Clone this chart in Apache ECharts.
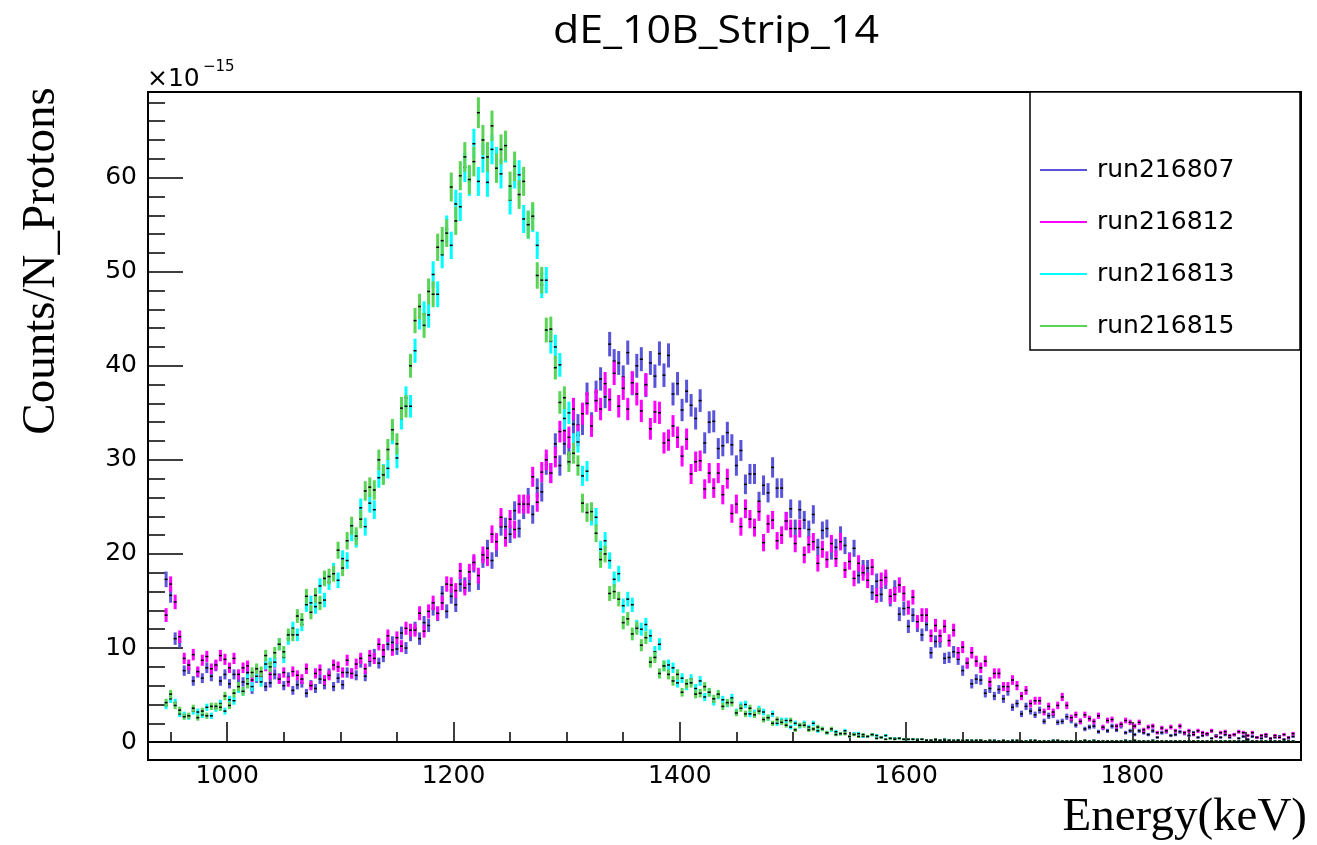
<!DOCTYPE html>
<html><head><meta charset="utf-8">
<script src="https://cdn.jsdelivr.net/npm/echarts@6/dist/echarts.min.js"></script>
<style>html,body{margin:0;padding:0;background:#fff}#c{width:1317px;height:845px}</style>
</head><body><div id="c"></div>
<script>
// Histogram bins: centre of first bin and bin width (keV)
const binStart = 946, binWidth = 4;
const seriesNames = ['run216807', 'run216812', 'run216813', 'run216815'];
const seriesColors = ['#5954d8', '#ff00ff', '#00ffff', '#59d454'];
// Counts/N_Protons (x1e-15), one value per bin
const run216807 = [
17.3,15.6,11.0,10.7,7.6,7.8,6.5,7.4,6.8,7.9,
7.0,8.1,6.5,7.2,6.2,7.2,6.8,6.4,7.4,5.6,
6.8,7.0,5.9,6.3,7.2,6.8,6.0,6.9,5.5,6.1,
6.3,5.2,6.1,5.7,6.7,6.1,7.3,5.9,6.8,6.1,
7.4,7.3,7.1,8.5,7.0,8.6,9.3,8.4,9.1,10.4,
10.6,9.9,11.6,10.0,11.4,12.1,11.0,12.7,12.4,14.2,
13.6,15.8,13.9,15.5,14.6,16.8,16.7,16.8,18.9,17.0,
19.4,20.6,19.3,20.6,22.9,22.9,22.1,24.6,22.7,24.7,
26.0,24.2,27.0,26.6,29.5,28.6,31.7,29.4,31.7,30.6,
33.8,33.7,33.8,37.0,33.9,37.2,38.6,36.7,42.3,40.5,
40.3,38.8,41.4,38.1,40.0,40.7,37.9,40.3,38.9,41.3,
39.0,41.1,37.0,38.1,35.3,37.3,35.8,34.4,36.3,31.8,
34.0,34.1,31.2,31.5,32.9,31.6,29.4,31.0,27.4,28.5,
28.5,25.6,27.3,26.5,29.2,27.0,27.0,23.5,24.8,22.7,
24.7,23.6,22.6,24.2,20.7,22.5,22.7,20.3,20.7,22.0,
20.9,19.3,20.6,17.7,18.5,18.5,15.9,17.1,15.7,17.1,
15.2,16.4,13.6,14.2,12.3,13.5,12.4,11.4,12.5,9.5,
10.7,10.7,8.9,9.0,9.6,8.8,7.6,8.4,6.2,6.7,
6.6,5.2,5.7,4.9,5.6,4.6,5.4,3.7,4.1,3.0,
3.8,3.3,2.9,3.4,2.2,2.8,2.9,2.1,2.2,2.7,
2.3,1.8,2.2,1.4,1.6,1.7,1.1,1.5,1.2,1.7,
1.3,1.7,1.0,1.2,0.8,1.2,1.0,0.8,1.2,0.5,
1.0,1.1,0.7,0.8,1.1,0.9,0.7,1.0,0.5,0.7,
0.8,0.4,0.7,0.5,0.8,0.5,0.8,0.4,0.6,0.3,
0.6,0.5,0.4,0.6,0.2,0.5,0.6,0.3,0.4,0.6];
const run216812 = [
13.5,16.8,14.9,11.2,8.9,8.2,9.3,7.5,8.7,9.1,
7.8,8.2,9.2,8.8,7.9,8.9,7.2,7.9,8.1,6.6,
7.6,7.0,8.1,7.2,8.4,6.7,7.4,6.4,7.5,7.1,
6.7,7.8,6.0,7.3,7.7,6.6,7.1,8.2,8.0,7.4,
8.7,7.3,8.3,8.9,7.8,9.2,8.9,10.4,9.8,11.3,
9.8,11.1,10.2,12.1,11.9,11.9,13.7,11.8,13.9,14.8,
13.7,14.8,16.8,16.7,16.1,18.2,16.4,18.1,19.1,17.7,
19.9,19.6,22.1,21.3,23.9,21.7,23.7,22.6,25.3,25.3,
25.3,28.2,25.5,28.7,30.0,28.6,30.3,33.0,33.1,32.4,
35.4,32.6,34.9,36.0,33.6,36.3,35.4,38.1,36.4,39.2,
35.7,37.6,35.4,38.2,37.0,35.2,38.0,33.3,35.1,35.0,
31.8,32.1,33.6,32.4,30.4,32.2,28.5,29.8,29.9,26.9,
28.6,27.0,28.6,26.3,28.0,24.3,25.3,22.9,24.8,23.7,
22.8,24.5,21.2,23.2,23.6,21.4,22.0,23.5,22.7,21.1,
22.7,19.9,21.0,21.3,19.0,20.5,19.4,21.1,19.5,21.3,
18.3,19.2,17.4,19.0,18.0,17.2,18.6,15.6,17.2,17.5,
15.5,15.7,16.7,15.8,14.3,15.4,12.8,13.5,13.5,11.3,
12.4,11.3,12.3,10.8,11.9,9.5,10.1,8.4,9.5,8.6,
7.9,8.6,6.4,7.3,7.3,5.9,5.9,6.6,6.0,4.9,
5.5,4.1,4.4,4.4,3.2,3.8,3.2,3.9,4.8,3.9,
2.6,2.9,2.2,2.9,2.5,2.2,2.8,1.6,2.3,2.4,
1.7,1.9,2.3,2.1,1.7,2.1,1.3,1.6,1.7,1.0,
1.5,1.2,1.6,1.2,1.7,1.0,1.2,0.8,1.2,1.0,
0.9,1.2,0.6,1.0,1.1,0.7,0.8,1.1,1.0,0.7,
1.0,0.5,0.7,0.8,0.4,0.7,0.5,0.8,0.5,0.9];
const run216813 = [
3.9,4.6,4.2,3.0,2.9,2.7,3.3,3.2,2.9,3.7,
2.8,3.6,4.1,3.3,4.5,4.4,5.7,5.4,6.7,5.9,
7.0,6.4,8.3,8.4,8.5,10.4,9.0,11.0,12.1,11.4,
12.5,14.6,14.8,14.4,16.6,15.1,17.0,18.2,17.2,19.5,
19.3,22.3,21.6,24.9,22.9,25.4,24.7,28.1,28.5,29.1,
32.8,30.2,34.4,36.6,35.7,41.6,45.2,45.5,45.4,49.7,
47.6,51.8,54.5,52.8,57.2,56.9,61.1,59.6,63.6,59.6,
62.1,59.5,63.0,61.7,60.4,63.2,57.6,60.4,60.3,55.6,
55.0,55.7,52.8,48.6,49.1,42.6,42.0,40.1,34.4,35.0,
31.7,31.9,28.3,28.8,24.0,23.9,20.5,21.4,19.3,17.3,
17.9,14.5,15.2,14.6,12.3,12.0,12.5,11.3,9.6,10.4,
8.1,8.2,7.9,6.3,6.8,6.0,6.7,5.7,6.5,4.8,
5.3,4.3,5.0,4.5,4.1,4.7,3.2,3.9,4.0,3.0,
3.1,3.5,3.2,2.6,3.0,2.0,2.3,2.3,1.6,2.0,
1.7,2.0,1.6,2.0,1.2,1.4,1.0,1.3,1.1,0.9,
1.2,0.6,0.9,0.9,0.6,0.6,0.8,0.7,0.5,0.7,
0.4,0.4,0.4,0.3,0.3,0.3,0.3,0.3,0.2,0.2,
0.2,0.2,0.3,0.2,0.2,0.2,0.1,0.2,0.2,0.1,
0.2,0.1,0.1,0.2,0.1,0.1,0.1,0.2,0.1,0.1,
0.1,0.2,0.1,0.1,0.1,0.1,0.2,0.1,0.1,0.1,
0.1,0.1,0.1,0.1,0.1,0.2,0.1,0.1,0.1,0.1,
0.1,0.1,0.2,0.1,0.1,0.1,0.1,0.1,0.2,0.1,
0.1,0.1,0.1,0.1,0.1,0.1,0.1,0.1,0.1,0.1,
0.1,0.1,0.1,0.1,0.1,0.1,0.1,0.1,0.1,0.1,
0.1,0.1,0.1,0.1,0.1,0.1,0.1,0.1,0.1,0.1];
const run216815 = [
4.2,5.1,3.9,3.4,2.7,2.8,3.6,2.6,3.3,2.8,
3.8,3.8,3.7,4.9,3.9,5.2,5.9,5.4,6.2,7.4,
7.8,7.5,9.2,8.0,9.5,10.4,9.6,11.4,11.4,13.4,
13.0,15.5,13.8,15.6,14.8,17.4,17.6,17.9,20.4,18.5,
21.4,23.0,21.9,23.7,26.7,27.1,26.8,30.0,28.4,31.1,
33.2,31.7,35.5,35.7,40.0,44.8,46.3,44.3,47.9,47.6,
52.6,53.3,54.1,59.0,55.4,60.2,62.2,59.8,61.7,66.9,
64.0,62.2,65.5,61.0,63.0,63.4,59.1,61.2,58.2,59.6,
55.0,55.9,49.6,49.1,43.8,43.9,39.8,36.1,36.6,29.8,
30.7,29.4,25.4,24.4,24.5,22.2,19.4,20.0,15.8,16.0,
15.2,12.7,13.1,11.5,12.1,10.3,11.1,8.5,9.0,7.3,
8.1,7.2,6.5,7.2,5.3,6.2,6.3,5.1,5.2,5.9,
5.3,4.6,5.1,3.8,4.2,4.2,3.1,3.6,3.0,3.6,
2.9,3.3,2.4,2.6,2.0,2.4,2.1,1.8,2.3,1.3,
1.8,1.8,1.3,1.4,1.6,1.4,1.0,1.4,0.8,0.9,
0.9,0.6,0.8,0.6,0.8,0.6,0.8,0.4,0.5,0.3,
0.4,0.3,0.4,0.3,0.3,0.3,0.2,0.3,0.2,0.2,
0.3,0.2,0.2,0.2,0.1,0.2,0.2,0.2,0.1,0.2,
0.2,0.1,0.2,0.1,0.1,0.2,0.1,0.1,0.2,0.1,
0.1,0.1,0.2,0.1,0.1,0.1,0.1,0.2,0.1,0.1,
0.1,0.1,0.1,0.2,0.1,0.1,0.1,0.1,0.1,0.1,
0.1,0.1,0.1,0.1,0.2,0.1,0.1,0.1,0.1,0.1,
0.1,0.1,0.1,0.1,0.1,0.1,0.1,0.1,0.1,0.1,
0.1,0.1,0.1,0.1,0.1,0.1,0.1,0.1,0.1,0.1,
0.1,0.1,0.1,0.1,0.1,0.1,0.1,0.1,0.1,0.1];
const seriesValues = [run216807, run216812, run216813, run216815];
// Poisson error: err^2 = value * errScale  (counts normalised by N_protons)
const errScale = 0.04;

const chart = echarts.init(document.getElementById('c'), null, {renderer: 'canvas'});

function renderErr(params, api) {
  const x = api.value(0), y = api.value(1), e = api.value(2);
  const top = api.coord([x, y + e]);
  const bot = api.coord([x, y - e]);
  const c = api.coord([x, y]);
  const col = api.visual('color');
  return {
    type: 'group',
    children: [
      {type: 'line', shape: {x1: top[0], y1: top[1], x2: bot[0], y2: bot[1]},
       style: {stroke: col, lineWidth: 3}},
      {type: 'rect', shape: {x: c[0] - 1.5, y: c[1] - 0.75, width: 3, height: 1.5},
       style: {fill: '#000'}}
    ]
  };
}

const series = seriesNames.map((name, k) => ({
  name: name,
  type: 'custom',
  renderItem: renderErr,
  clip: true,
  itemStyle: {color: seriesColors[k]},
  encode: {x: 0, y: 1},
  z: 2 + k,
  data: seriesValues[k].map((v, i) => [binStart + i * binWidth, v, Math.sqrt(v * errScale)])
}));

const labelFont = {fontFamily: 'DejaVu Sans', fontSize: 25, color: '#000'};

chart.setOption({
  animation: false,
  backgroundColor: '#fff',
  grid: {left: 148, right: 16, top: 92, bottom: 85, show: true, borderColor: '#000', borderWidth: 2, backgroundColor: 'transparent'},
  xAxis: {
    type: 'value', min: 930, max: 1949, splitNumber: 5,
    axisLine: {show: true, lineStyle: {color: '#000', width: 2}},
    axisTick: {show: true, inside: true, length: 20, lineStyle: {color: '#000', width: 1.5}},
    minorTick: {show: true, splitNumber: 4, length: 10, lineStyle: {color: '#000', width: 1.5}},
    splitLine: {show: false},
    axisLabel: Object.assign({margin: 4, formatter: v => (Math.abs(v % 200) < 1e-6 ? String(v) : '')}, labelFont)
  },
  yAxis: {
    type: 'value', min: -1.9, max: 69.1, splitNumber: 7,
    axisLine: {show: true, lineStyle: {color: '#000', width: 2}},
    axisTick: {show: true, inside: true, length: 35, lineStyle: {color: '#000', width: 1.5}},
    minorTick: {show: true, splitNumber: 5, length: 17, lineStyle: {color: '#000', width: 1.5}},
    splitLine: {show: false},
    axisLabel: Object.assign({margin: 11, formatter: v => (Math.abs(v % 10) < 1e-6 ? String(v) : '')}, labelFont)
  },
  legend: {
    orient: 'vertical', left: 1040, top: 157, padding: 0,
    itemWidth: 47, itemHeight: 2, itemGap: 26, icon: 'rect',
    data: seriesNames,
    textStyle: {fontFamily: 'DejaVu Sans', fontSize: 25, color: '#000', lineHeight: 26, padding: [0, 0, 0, 5]},
    z: 20
  },
  graphic: [
    {type: 'rect', z: 15, shape: {x: 1030, y: 92, width: 270, height: 258},
     style: {fill: '#fff', stroke: '#000', lineWidth: 1.5}},
    {type: 'text', x: 716, y: 32, scaleX: 1.13, z: 20,
     style: {text: 'dE_10B_Strip_14', font: '38px "Open Sans"', fill: '#000', align: 'center', verticalAlign: 'middle', textAlign: 'center', textVerticalAlign: 'middle'}},
    {type: 'text', x: 42, y: 261, rotation: Math.PI / 2, z: 20,
     style: {text: 'Counts/N_Protons', font: '47px "Liberation Serif"', fill: '#000', align: 'center', verticalAlign: 'middle', textAlign: 'center', textVerticalAlign: 'middle'}},
    {type: 'text', x: 1307, y: 818, z: 20,
     style: {text: 'Energy(keV)', font: '47px "Liberation Serif"', fill: '#000', align: 'right', verticalAlign: 'middle', textAlign: 'right', textVerticalAlign: 'middle'}},
    {type: 'text', x: 147, y: 79, z: 20,
     style: {text: '\u00d710', font: '25px "DejaVu Sans"', fill: '#000', align: 'left', verticalAlign: 'middle', textAlign: 'left', textVerticalAlign: 'middle'}},
    {type: 'text', x: 203, y: 67, z: 20,
     style: {text: '\u221215', font: '15px "DejaVu Sans"', fill: '#000', align: 'left', verticalAlign: 'middle', textAlign: 'left', textVerticalAlign: 'middle'}}
  ],
  series: series
});
</script>
</body></html>
